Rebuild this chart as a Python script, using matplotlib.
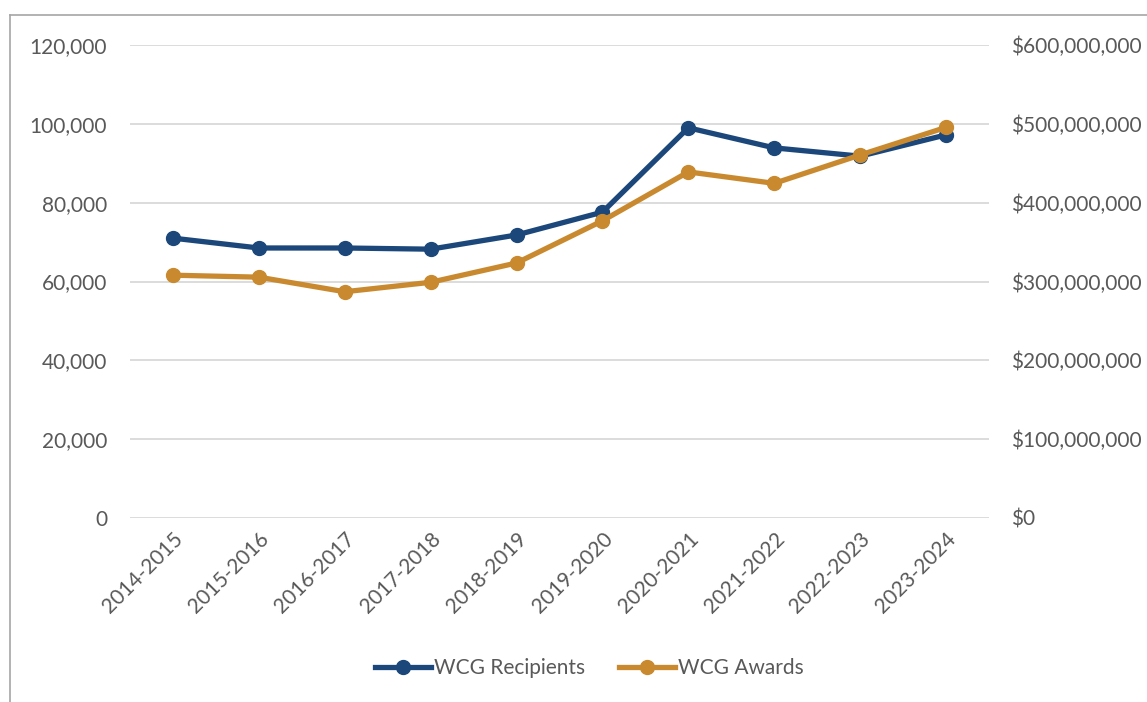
import matplotlib.pyplot as plt
from matplotlib.ticker import FuncFormatter
from matplotlib.lines import Line2D

# 데이터
years = ["2014-2015", "2015-2016", "2016-2017", "2017-2018", "2018-2019",
         "2019-2020", "2020-2021", "2021-2022", "2022-2023", "2023-2024"]
recipients = [71000, 68500, 68500, 68200, 71800, 77600, 99000, 93900, 91800, 97200]
awards = [308e6, 305.5e6, 287e6, 299e6, 323.5e6, 377e6, 439e6, 424.5e6, 460.5e6, 495.5e6]

blue = "#1B477A"
gold = "#C98A2F"
grey_txt = "#595959"
fs = 15

plt.rcParams['font.family'] = ['Lato', 'DejaVu Sans']

fig = plt.figure(figsize=(11.47, 7.02), dpi=100)
ax = fig.add_axes([130 / 1147, 1 - 518 / 702, (989 - 130) / 1147, (518 - 45) / 702])
ax2 = ax.twinx()

x = range(len(years))
ax.plot(x, recipients, color=blue, lw=3.8, marker="o", ms=10, zorder=3)
ax2.plot(x, awards, color=gold, lw=3.8, marker="o", ms=10, zorder=3)

ax.set_xlim(-0.5, len(years) - 0.5)
ax.set_ylim(0, 120000)
ax2.set_ylim(0, 600e6)
ax.set_yticks(range(0, 120001, 20000))
ax2.set_yticks([i * 100e6 for i in range(7)])
ax.yaxis.set_major_formatter(FuncFormatter(lambda v, p: f"{int(v):,}"))
ax2.yaxis.set_major_formatter(FuncFormatter(lambda v, p: f"${int(v):,}"))

ax.set_xticks(list(x))
ax.set_xticklabels(years, rotation=45, ha="right", rotation_mode="anchor")

ax.grid(axis="y", color="#D9D9D9", lw=1.3)
ax.set_axisbelow(True)
for a in (ax, ax2):
    for s in a.spines.values():
        s.set_visible(False)
    a.tick_params(length=0, labelsize=fs, labelcolor=grey_txt)
ax.tick_params(axis="y", pad=16.5)
ax.tick_params(axis="x", pad=8)
ax2.tick_params(axis="y", pad=16)

# 범례
handles = [Line2D([], [], color=blue, lw=3.8, marker="o", ms=10),
           Line2D([], [], color=gold, lw=3.8, marker="o", ms=10)]
fig.legend(handles, ["WCG Recipients", "WCG Awards"], loc="center",
           bbox_to_anchor=(0.514, 1 - 668 / 702), ncol=2, frameon=False,
           fontsize=fs, labelcolor=grey_txt, handlelength=2.7,
           handletextpad=0.15, columnspacing=1.6)

# 바깥 테두리
fig.add_artist(Line2D([10 / 1147, 10 / 1147], [0, 1 - 15 / 702], color="#A6A6A6", lw=1.2))
fig.add_artist(Line2D([10 / 1147, 1], [1 - 15 / 702, 1 - 15 / 702], color="#A6A6A6", lw=1.2))

fig.savefig("out.png", dpi=100)
